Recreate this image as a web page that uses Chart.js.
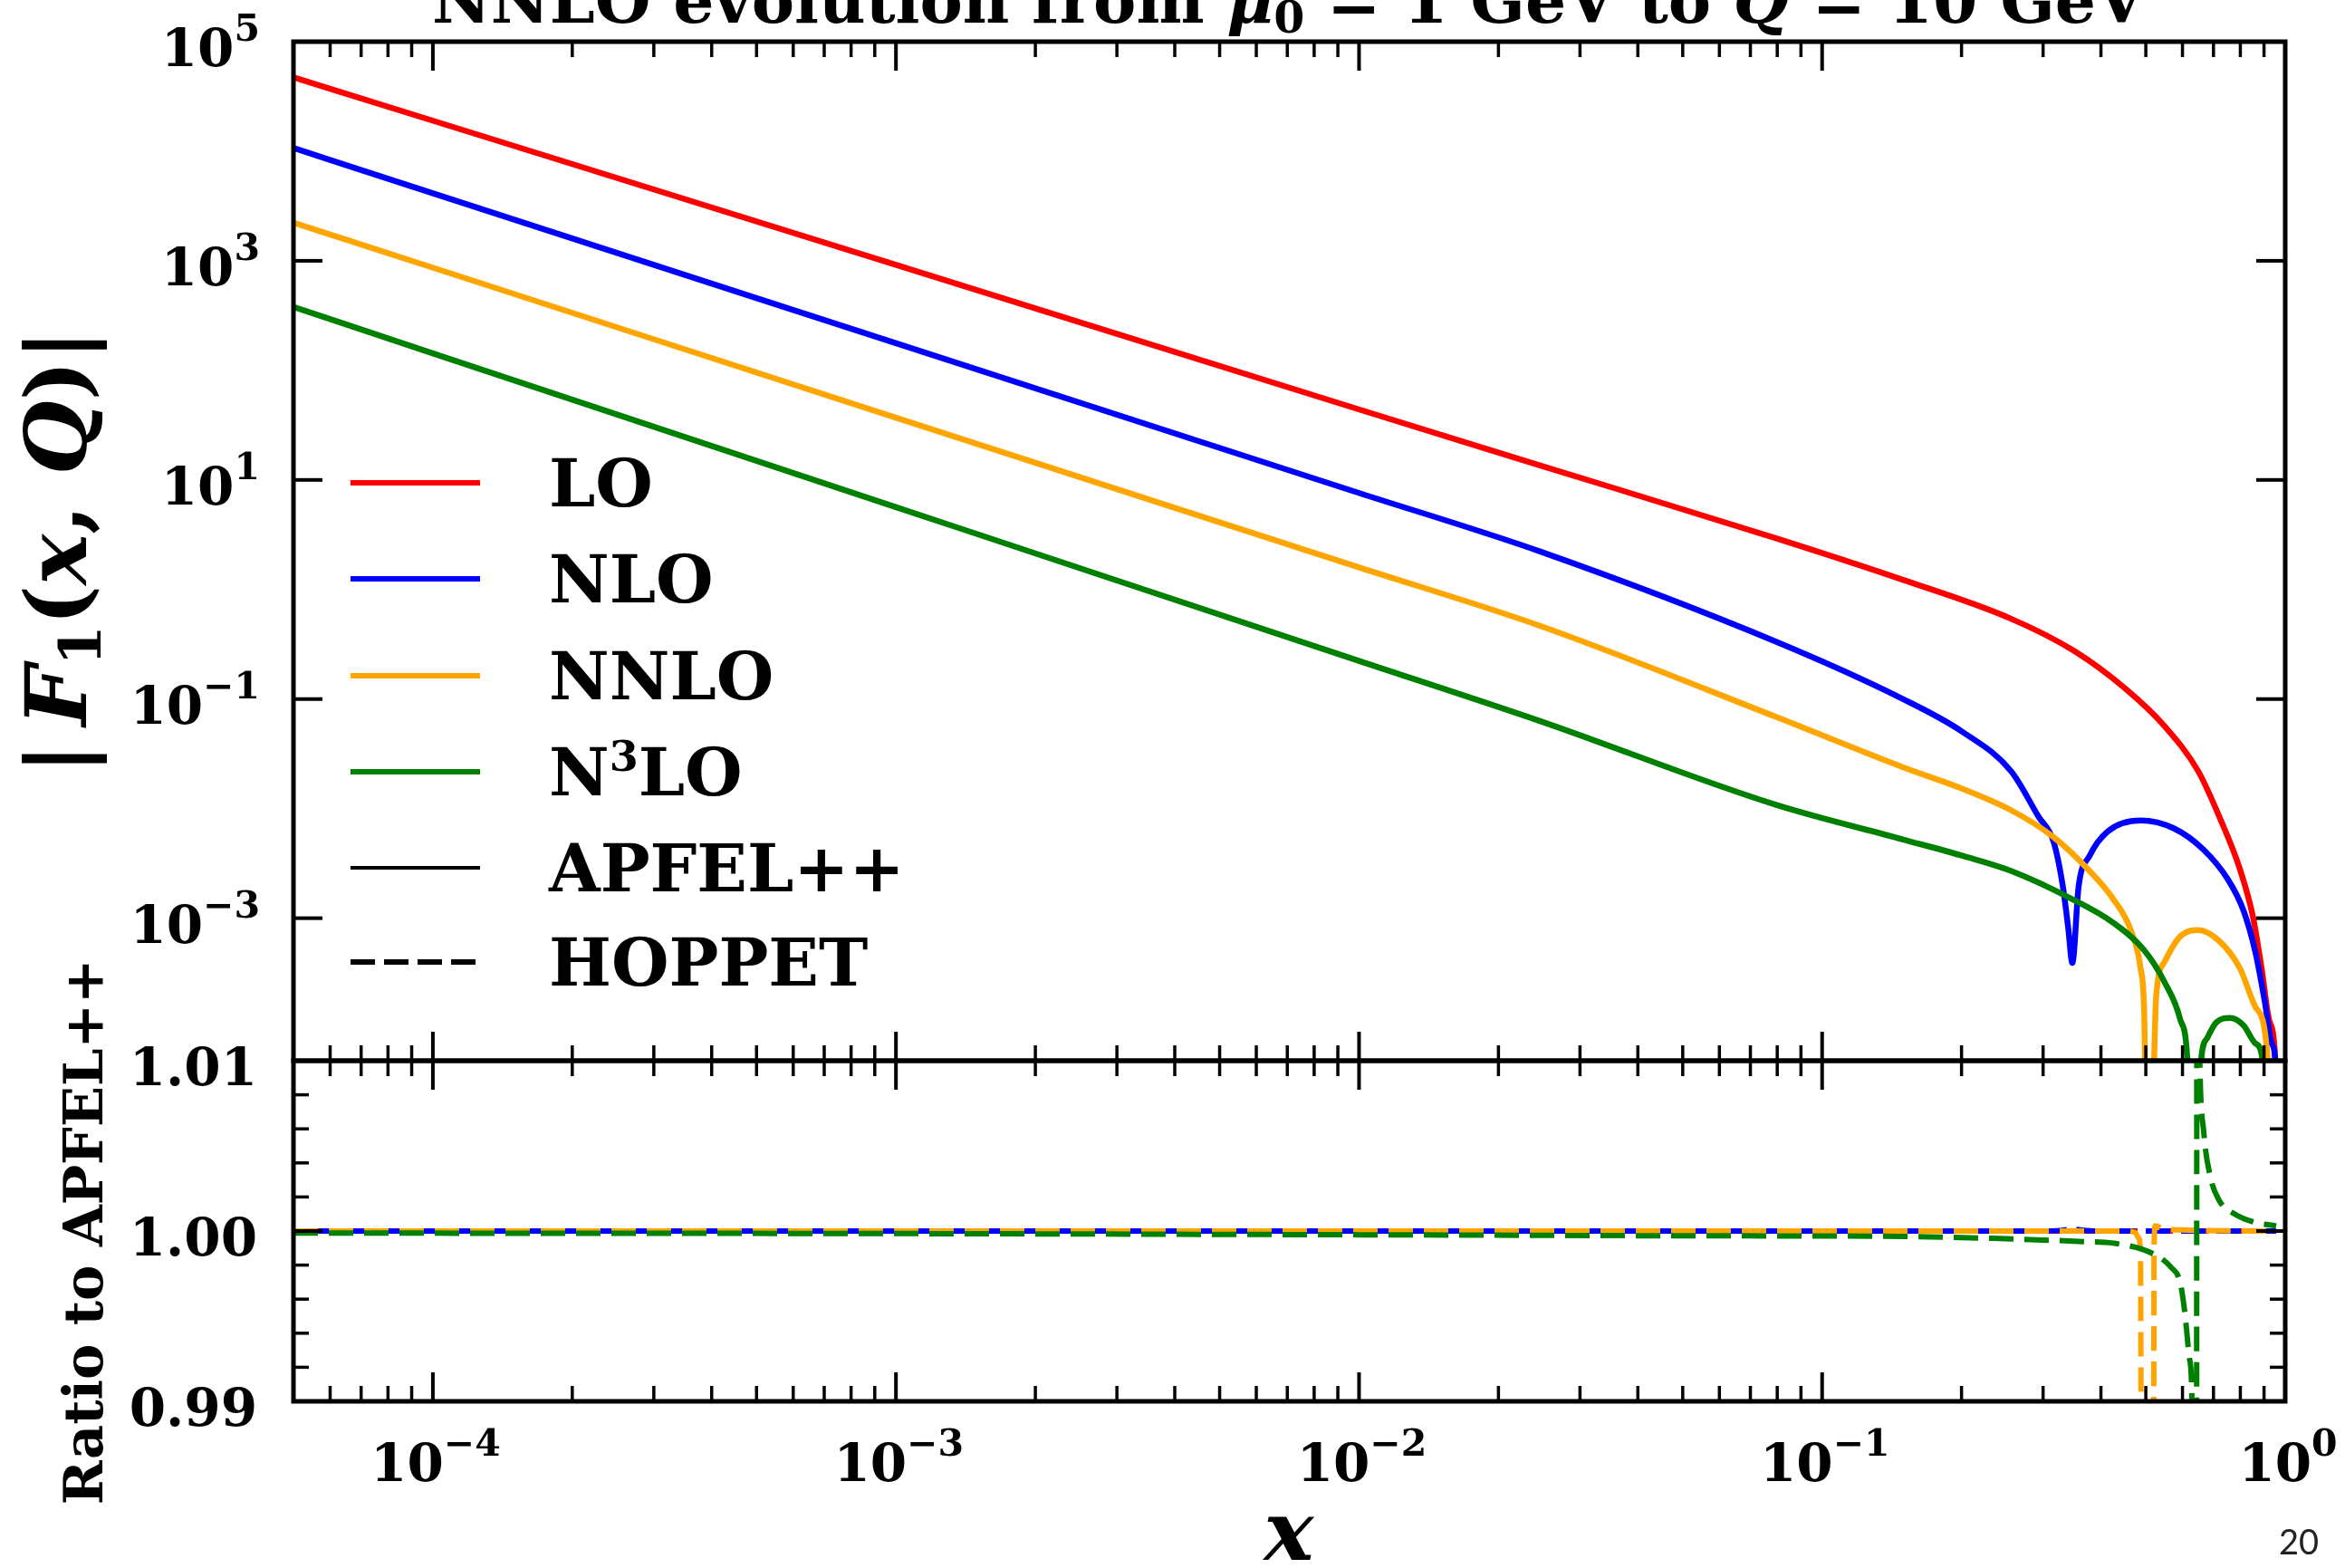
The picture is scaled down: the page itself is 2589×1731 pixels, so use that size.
<!DOCTYPE html>
<html lang="en">
<head>
<meta charset="UTF-8">
<title>NNLO evolution from mu0 = 1 GeV to Q = 10 GeV</title>
<script src="https://cdn.jsdelivr.net/npm/chart.js"></script>
<style>
  html, body { margin: 0; padding: 0; background: #fff; overflow: hidden; }
  canvas { position: absolute; left: 0; top: 0; }
</style>
</head>
<body>
<canvas id="upper" width="2589" height="1731"></canvas>
<canvas id="lower" width="2589" height="1731"></canvas>
<script>
// |F1(x,Q)| from APFEL++
const loX   = [5e-5, 1e-4, 1e-3, 1e-2, 0.0247, 0.0794, 0.149, 0.256, 0.35, 0.45, 0.55, 0.649, 0.72, 0.798, 0.851, 0.889, 0.922, 0.952, 0.97];
const loY   = [4.72e4, 1.9e4, 920, 44, 13.5, 2.94, 1.23, 0.54, 0.275, 0.126, 0.056, 0.0219, 0.0085, 0.00282, 0.00105, 3.5e-4, 1.2e-4, 5e-5, 1e-6];
const nloX  = [5e-5, 1e-4, 1e-3, 1e-2, 0.0247, 0.0794, 0.149, 0.2015, 0.256, 0.293, 0.316, 0.331, 0.340, 0.347, 0.358, 0.378, 0.414, 0.487, 0.575, 0.667, 0.753, 0.813, 0.862, 0.902, 0.935, 0.952, 0.97];
const nloY  = [1.07e4, 4130, 177, 7.6, 2.21, 0.335, 0.1007, 0.0498, 0.0219, 0.0085, 0.005, 0.00195, 8.1e-4, 3.9e-4, 0.00195, 0.0037, 0.0062, 0.0078, 0.0066, 0.0042, 0.00224, 0.00117, 4.9e-4, 1.8e-4, 7.2e-5, 5e-5, 1e-6];
const nnloX = [5e-5, 1e-4, 1e-3, 1e-2, 0.0247, 0.0794, 0.149, 0.2015, 0.256, 0.316, 0.378, 0.425, 0.465, 0.487, 0.496, 0.505, 0.521, 0.526, 0.549, 0.593, 0.649, 0.72, 0.798, 0.862, 0.914, 0.94];
const nnloY = [2230, 865, 37, 1.59, 0.463, 0.0689, 0.024, 0.0151, 0.00966, 0.0055, 0.0027, 0.0015, 7.6e-4, 3.5e-4, 1.35e-4, 1e-6, 5e-5, 1.86e-4, 4e-4, 6.8e-4, 7.8e-4, 6.2e-4, 3.5e-4, 1.55e-4, 6e-5, 1e-6];
const n3loX = [5e-5, 1e-4, 1e-3, 1e-2, 0.0247, 0.0794, 0.149, 0.2015, 0.256, 0.346, 0.425, 0.496, 0.549, 0.593, 0.615, 0.635, 0.658, 0.679, 0.71, 0.76, 0.813, 0.862, 0.894, 0.92];
const n3loY = [379, 143, 5.65, 0.223, 0.0626, 0.01084, 0.00525, 0.0037, 0.0027, 0.0015, 9.1e-4, 5.1e-4, 2.6e-4, 1.2e-4, 5e-5, 1e-6, 5e-5, 8.1e-5, 1.12e-4, 1.23e-4, 1.05e-4, 7.2e-5, 5e-5, 1e-6];

// HOPPET / APFEL++
const rLoX   = [5e-5, 0.1, 0.5, 0.956];
const rLoY   = [1.0, 1.0, 1.0, 1.0];
const rNloX  = [5e-5, 0.3, 0.34, 0.347, 0.355, 0.4, 0.956];
const rNloY  = [1.0, 1.0, 1.0001, 1.0003, 1.0001, 1.0, 1.0];
const rNnloX = [5e-5, 0.45, 0.475, 0.482, 0.487, 0.49, 0.519, 0.521, 0.524, 0.55, 0.956];
const rNnloY = [1.0, 1.0, 0.9999, 0.9996, 0.9988, 0.97, 0.97, 0.999, 1.0003, 1.0001, 1.0];
const rN3loX = [5e-5, 1e-3, 1e-2, 0.05, 0.149, 0.234, 0.367, 0.425, 0.518, 0.567, 0.593, 0.607, 0.621, 0.629, 0.636, 0.643, 0.645, 0.652, 0.667, 0.689, 0.72, 0.778, 0.862, 0.956];
const rN3loY = [0.99988, 0.99985, 0.99978, 0.99972, 0.99968, 0.99957, 0.99938, 0.99929, 0.99867, 0.99787, 0.99699, 0.99521, 0.99255, 0.99, 0.97, 0.97, 1.03, 1.012, 1.0058, 1.0032, 1.0018, 1.0010, 1.0005, 1.0003];

// ticks and labels
const xMajor = [1e-4, 1e-3, 1e-2, 1e-1, 1];
const xExps  = ['\u22124', '\u22123', '\u22122', '\u22121', '0'];
const yMajor = [1e-3, 1e-1, 1e1, 1e3, 1e5];
const yExps  = ['\u22123', '\u22121', '1', '3', '5'];
const rMajor = [0.99, 1.00, 1.01];
const rLabels = ['0.99', '1.00', '1.01'];

const orders = ['LO', 'NLO', 'NNLO', 'N3LO'];
const colors = ['#ff0000', '#0000ff', '#ffa500', '#008000'];
const dashOffsets = [19, 19, 0, 0];

const SERIF = '"DejaVu Serif", "Liberation Serif", serif';
const font = (size, style) => (style || 'bold') + ' ' + size + 'px ' + SERIF;

// log minor ticks for the x axis
const xMinor = [];
for (let d = -5; d <= 0; d++) {
  for (let k = 2; k <= 9; k++) {
    const v = k * Math.pow(10, d);
    if (v > 5e-5 && v < 1) xMinor.push(v);
  }
}
const rMinor = [0.992, 0.994, 0.996, 0.998, 1.002, 1.004, 1.006, 1.008];

// draws pieces of text with different fonts one after another
function drawRuns(ctx, runs, x, y, align) {
  let w = 0;
  runs.forEach(r => { ctx.font = r[1]; w += ctx.measureText(r[0]).width; });
  let cx = align === 'center' ? x - w / 2 : align === 'right' ? x - w : x;
  runs.forEach(r => {
    ctx.font = r[1];
    ctx.fillText(r[0], cx, y + (r[2] || 0));
    cx += ctx.measureText(r[0]).width;
  });
}

function seg(ctx, x1, y1, x2, y2) {
  ctx.beginPath(); ctx.moveTo(x1, y1); ctx.lineTo(x2, y2); ctx.stroke();
}

// inward ticks on all four sides + frame
function drawFrame(chart, yMaj, yMin) {
  const { ctx, chartArea: a, scales } = chart;
  ctx.save();
  ctx.strokeStyle = '#000';
  ctx.lineCap = 'butt';
  ctx.lineWidth = 3.5;
  xMinor.forEach(v => {
    const px = scales.x.getPixelForValue(v);
    seg(ctx, px, a.top, px, a.top + 17);
    seg(ctx, px, a.bottom, px, a.bottom - 17);
  });
  yMin.forEach(v => {
    const py = scales.y.getPixelForValue(v);
    seg(ctx, a.left, py, a.left + 17, py);
    seg(ctx, a.right, py, a.right - 17, py);
  });
  ctx.lineWidth = 4;
  xMajor.forEach(v => {
    const px = scales.x.getPixelForValue(v);
    seg(ctx, px, a.top, px, a.top + 32);
    seg(ctx, px, a.bottom, px, a.bottom - 32);
  });
  yMaj.forEach(v => {
    const py = scales.y.getPixelForValue(v);
    seg(ctx, a.left, py, a.left + 32, py);
    seg(ctx, a.right, py, a.right - 32, py);
  });
  ctx.lineWidth = 5;
  ctx.strokeRect(a.left, a.top, a.right - a.left, a.bottom - a.top);
  ctx.restore();
}

// later orders are drawn on top, as in the original plot
function line(xs, ys, i, width, dash, offset) {
  return {
    label: orders[i],
    order: orders.length - i,
    data: xs.map((x, k) => ({ x: x, y: ys[k] })),
    borderColor: colors[i],
    borderWidth: width,
    borderDash: dash || [],
    borderDashOffset: offset || 0,
    pointRadius: 0,
    cubicInterpolationMode: 'monotone',
    fill: false
  };
}

function options(padding, yScale) {
  return {
    responsive: false,
    animation: false,
    devicePixelRatio: 1,
    events: [],
    layout: { padding: padding },
    plugins: { legend: { display: false }, tooltip: { enabled: false } },
    scales: {
      x: { type: 'logarithmic', min: 5e-5, max: 1, display: false },
      y: yScale
    }
  };
}

const upperText = {
  id: 'upperText',
  afterDraw(chart) {
    const ctx = chart.ctx;
    drawFrame(chart, yMajor, []);
    ctx.save();
    ctx.fillStyle = '#000';
    ctx.textBaseline = 'alphabetic';
    ctx.textAlign = 'left';
    // y tick labels
    yMajor.forEach((v, i) => {
      const py = chart.scales.y.getPixelForValue(v);
      drawRuns(ctx, [['10', font(58)], [yExps[i], font(41), -28]], 287, py + 27, 'right');
    });
    // legend
    const names = [[['LO', font(73)]], [['NLO', font(73)]], [['NNLO', font(73)]],
      [['N', font(73)], ['3', font(46), -27], ['LO', font(73)]],
      [['APFEL++', font(73)]], [['HOPPET', font(73)]]];
    const rows = [533, 639, 746, 852, 958, 1062];
    names.forEach((runs, i) => {
      ctx.save();
      if (i < 4) { ctx.strokeStyle = colors[i]; ctx.lineWidth = 6; }
      else { ctx.strokeStyle = '#000'; ctx.lineWidth = i === 4 ? 4 : 6; }
      if (i === 5) ctx.setLineDash([27, 10]);
      seg(ctx, 387, rows[i], 530, rows[i]);
      ctx.restore();
      drawRuns(ctx, runs, 606, rows[i] + 26, 'left');
    });
    // title, cut by the top of the page
    drawRuns(ctx, [['NNLO evolution from ', font(71)], ['\u03bc', font(71, 'italic bold')],
      ['0', font(49), 11], [' = 1 GeV to ', font(71)], ['Q', font(71, 'italic bold')],
      [' = 10 GeV', font(71)]], 1423, 25, 'center');
    // y axis title
    ctx.translate(95, 609);
    ctx.rotate(-Math.PI / 2);
    drawRuns(ctx, [['|', font(94)], ['\u2009', font(94)], ['F', font(94, 'italic bold')], ['1', font(64), 16],
      ['(', font(94)], ['x', font(94, 'italic bold')], [', ', font(94)],
      ['Q', font(94, 'italic bold')], [')', font(94)], ['|', font(94)]], 0, 0, 'center');
    ctx.restore();
  }
};

const lowerText = {
  id: 'lowerText',
  afterDraw(chart) {
    const ctx = chart.ctx;
    drawFrame(chart, rMajor, rMinor);
    ctx.save();
    ctx.fillStyle = '#000';
    ctx.textBaseline = 'alphabetic';
    ctx.textAlign = 'left';
    rMajor.forEach((v, i) => {
      const py = chart.scales.y.getPixelForValue(v);
      drawRuns(ctx, [[rLabels[i], font(58)]], 284, py + 27, 'right');
    });
    xMajor.forEach((v, i) => {
      const px = chart.scales.x.getPixelForValue(v);
      drawRuns(ctx, [['10', font(58)], [xExps[i], font(41), -28]], px + 3, 1635, 'center');
    });
    drawRuns(ctx, [['x', font(92, 'italic bold')]], 1423, 1722, 'center');
    ctx.font = '38px Lato, "Open Sans", sans-serif';
    ctx.fillStyle = '#222';
    ctx.textAlign = 'center';
    ctx.fillText('20', 2538, 1716);
    ctx.fillStyle = '#000';
    ctx.textAlign = 'left';
    ctx.translate(113, 1360);
    ctx.rotate(-Math.PI / 2);
    drawRuns(ctx, [['Ratio to APFEL++', font(59)]], 0, 0, 'center');
    ctx.restore();
  }
};

const xsTop = [loX, nloX, nnloX, n3loX];
const ysTop = [loY, nloY, nnloY, n3loY];
new Chart(document.getElementById('upper'), {
  type: 'line',
  data: { datasets: orders.map((o, i) => line(xsTop[i], ysTop[i], i, 6.5)) },
  options: options({ left: 324, right: 66, top: 46, bottom: 560 },
    { type: 'logarithmic', min: 5e-5, max: 1e5, display: false }),
  plugins: [upperText]
});

const xsRatio = [rLoX, rNloX, rNnloX, rN3loX];
const ysRatio = [rLoY, rNloY, rNnloY, rN3loY];
new Chart(document.getElementById('lower'), {
  type: 'line',
  data: { datasets: orders.map((o, i) => line(xsRatio[i], ysRatio[i], i, 6, [27, 12], dashOffsets[i])) },
  options: options({ left: 324, right: 66, top: 1171, bottom: 184 },
    { type: 'linear', min: 0.99, max: 1.01, display: false }),
  plugins: [lowerText]
});
</script>
</body>
</html>
